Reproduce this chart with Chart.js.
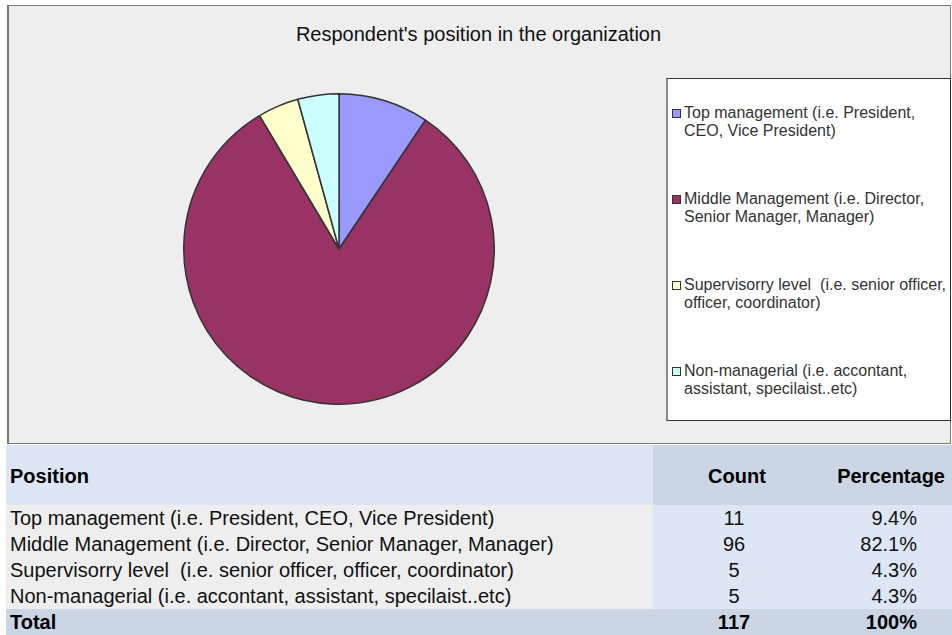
<!DOCTYPE html>
<html>
<head>
<meta charset="utf-8">
<script src="https://cdn.jsdelivr.net/npm/chart.js@4.4.1/dist/chart.umd.min.js"></script>
<style>
    html, body { margin: 0; padding: 0; background: #fff; }
    body { width: 952px; height: 635px; position: relative; overflow: hidden;
           font-family: 'Liberation Sans', Arial, sans-serif; color: #111; }
    .abs { position: absolute; }
    #chartBox { left: 7px; top: 5px; width: 941px; height: 437px;
                background: #eeeeee; border: 1px solid #7a7a7a; border-left-width: 2px; }
    #title { left: 7px; width: 943px; top: 23px; text-align: center; font-size: 20px; color: #111; }
    #pieWrap { left: 183px; top: 93px; width: 312px; height: 312px; }
    #legendBox { left: 666px; top: 78px; width: 282px; height: 341px;
                 background: #fff; border: 1px solid #333; border-left: 2px solid #888; }
    .lg-item { position: absolute; left: 684px; width: 268px; font-size: 16px; line-height: 18px;
               color: #333; white-space: pre-wrap; }
    .lg-box { position: absolute; width: 7px; height: 7px; border: 1px solid #333; }
    .band { position: absolute; }
    .cell { position: absolute; font-size: 20px; line-height: 26px; white-space: pre; color: #111; }
    .bold { font-weight: bold; color: #000; }
</style>
</head>
<body>
<div id="chartBox" class="abs"></div>
<div id="title" class="abs">Respondent's position in the organization</div>
<div id="pieWrap" class="abs"><canvas id="pieChart" width="312" height="312"></canvas></div>
<div id="legendBox" class="abs"></div>
<div id="legend"></div>
<div id="table"></div>

<script>
    'use strict';

    /* ── DATA ─────────────────────────────────────────────── */
    const positions = [
        'Top management (i.e. President, CEO, Vice President)',
        'Middle Management (i.e. Director, Senior Manager, Manager)',
        'Supervisorry level  (i.e. senior officer, officer, coordinator)',
        'Non-managerial (i.e. accontant, assistant, specilaist..etc)'
    ];
    const counts      = [11, 96, 5, 5];
    const percentages = ['9.4%', '82.1%', '4.3%', '4.3%'];
    const totalCount  = 117;
    const totalPct    = '100%';

    /* ── STYLE ────────────────────────────────────────────── */
    const C = {
        slices: ['#9999ff', '#993366', '#ffffcc', '#ccffff'],
        edge:   '#333333',
        hdrLight: '#dce6f4',
        hdrDark:  '#cad6e4',
        rowGrey:  '#eeeeee',
        rowBlue:  '#dce6f4'
    };

    /* ── PIE ──────────────────────────────────────────────── */
    new Chart(document.getElementById('pieChart'), {
        type: 'pie',
        data: {
            labels: positions,
            datasets: [{
                data: counts,
                backgroundColor: C.slices,
                borderColor: C.edge,
                borderWidth: 1.5,
                hoverOffset: 0,
                offset: 0
            }]
        },
        options: {
            responsive: false,
            animation: false,
            layout: { padding: 0 },
            plugins: {
                legend: { display: false },
                title: { display: false },
                tooltip: { enabled: false }
            }
        }
    });

    /* ── LEGEND (html, built from the same arrays) ────────── */
    const legend = document.getElementById('legend');
    positions.forEach((lab, i) => {
        const top = 104 + i * 86;
        const box = document.createElement('div');
        box.className = 'lg-box';
        box.style.left = '672px';
        box.style.top = (top + 5) + 'px';
        box.style.background = C.slices[i];
        legend.appendChild(box);
        const t = document.createElement('div');
        t.className = 'lg-item';
        t.style.top = top + 'px';
        t.textContent = lab;
        legend.appendChild(t);
    });

    /* ── TABLE ────────────────────────────────────────────── */
    const table = document.getElementById('table');
    function band(x, y, w, h, color) {
        const d = document.createElement('div');
        d.className = 'band';
        Object.assign(d.style, { left: x + 'px', top: y + 'px', width: w + 'px', height: h + 'px', background: color });
        table.appendChild(d);
    }
    function cell(text, x, y, align, bold) {
        const d = document.createElement('div');
        d.className = 'cell' + (bold ? ' bold' : '');
        d.textContent = text;
        d.style.top = y + 'px';
        if (align === 'left') d.style.left = x + 'px';
        else if (align === 'right') { d.style.right = (952 - x) + 'px'; }
        else { d.style.left = (x - 100) + 'px'; d.style.width = '200px'; d.style.textAlign = 'center'; }
        table.appendChild(d);
    }

    const colSplit = 653, countX = 734, pctRight = 917;
    const hdrTop = 445, hdrH = 60, rowTop = 505, rowH = 26;

    band(6, hdrTop, colSplit - 6, hdrH, C.hdrLight);
    band(colSplit, hdrTop, 952 - colSplit, hdrH, C.hdrDark);
    cell('Position', 10, hdrTop + 18, 'left', true);
    cell('Count', countX + 3, hdrTop + 18, 'center', true);
    cell('Percentage', 945, hdrTop + 18, 'right', true);

    positions.forEach((p, i) => {
        const y = rowTop + i * rowH;
        band(6, y, colSplit - 6, rowH, C.rowGrey);
        band(colSplit, y, 952 - colSplit, rowH, C.rowBlue);
        cell(p, 10, y, 'left', false);
        cell(String(counts[i]), countX, y, 'center', false);
        cell(percentages[i], pctRight, y, 'right', false);
    });

    const totY = rowTop + positions.length * rowH;
    band(6, totY, 946, 635 - totY, C.hdrDark);
    cell('Total', 10, totY, 'left', true);
    cell(String(totalCount), countX, totY, 'center', true);
    cell(totalPct, pctRight, totY, 'right', true);
</script>
</body>
</html>
